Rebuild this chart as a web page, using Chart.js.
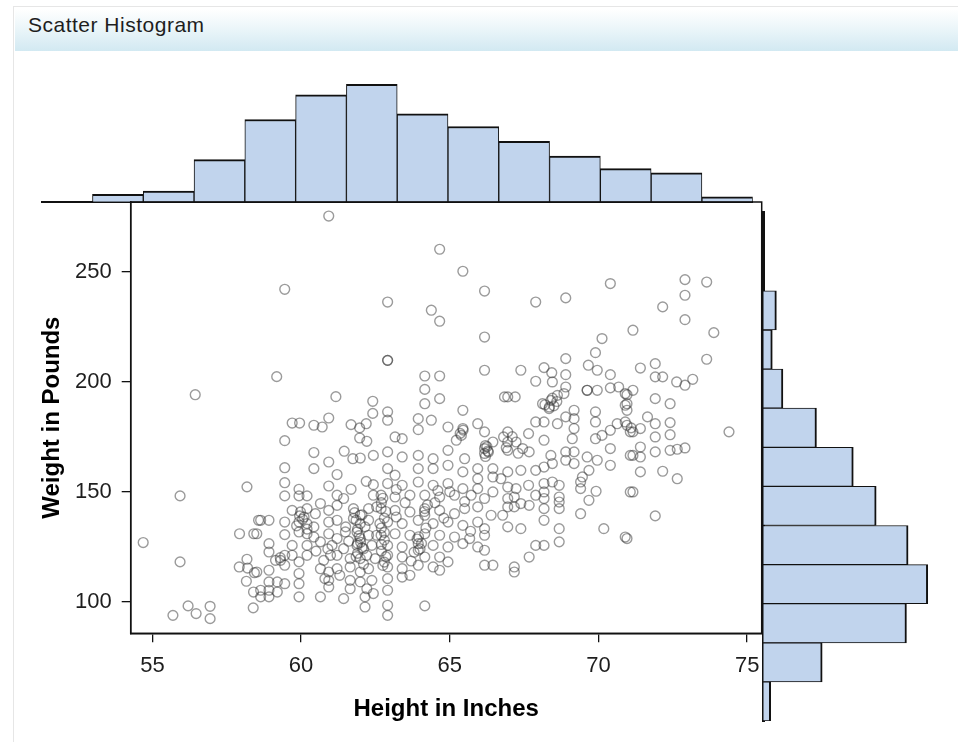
<!DOCTYPE html>
<html>
<head>
<meta charset="utf-8">
<title>Scatter Histogram</title>
<script src="https://cdn.jsdelivr.net/npm/chart.js@4.4.1/dist/chart.umd.min.js"></script>
<style>
  html, body { margin: 0; padding: 0; background: #ffffff; }
  #stage { position: relative; width: 958px; height: 742px; overflow: hidden; background: #ffffff; }
  #panel { position: absolute; left: 13px; top: 6px; width: 980px; height: 780px;
           border-left: 1px solid #e6e6e6; border-top: 1px solid #e6e6e6; }
  #titlebar { position: absolute; left: 15px; top: 9px; width: 943px; height: 42px; box-sizing: border-box;
              padding: 4px 0 0 13px; letter-spacing: 0.5px;
              background: linear-gradient(to bottom, #ffffff 0%, #eef7fa 40%, #d2e9f2 100%);
              font: 21px "Liberation Sans", Arial, sans-serif; color: #1e1e1e; }
  canvas { position: absolute; left: 0; top: 0; }
</style>
</head>
<body>
<div id="stage">
  <div id="panel"></div>
  <div id="titlebar">Scatter Histogram</div>
  <canvas id="topHist" width="958" height="215"></canvas>
  <canvas id="rightHist" width="958" height="742"></canvas>
  <canvas id="scatter" width="958" height="742"></canvas>
</div>
<script>
// Height histogram (percent of people per bin, left to right)
const heightBins = ['54.0', '55.5', '57.0', '58.5', '60.0', '61.5', '63.0', '64.5', '66.0', '67.5', '69.0', '70.5', '72.0', '73.5'];
const heightPct  = [0, 1.05, 1.5, 6.0, 11.7, 15.2, 16.7, 12.5, 10.7, 8.6, 6.5, 4.7, 4.1, 0.7];

// Weight histogram (percent of people per bin, heaviest bin first)
const weightBins = ['270', '255', '240', '225', '210', '195', '180', '165', '150', '135', '120', '105', '90'];
const weightPct  = [0, 0, 1.6, 1.1, 2.4, 6.5, 11.0, 13.8, 17.7, 20.1, 17.5, 7.2, 0.9];

// Scatter axis ticks
const heightTicks = [55, 60, 65, 70, 75];
const weightTicks = [100, 150, 200, 250];

// [height in inches, weight in pounds]
const people = [
  [56.44,194.1],[58.18,152.2],[55.93,148.1],[58.57,137.0],[57.93,130.9],[58.41,130.9],[54.69,126.9],
  [55.93,118.1],[58.18,119.3],[57.92,115.8],[58.20,115.3],[58.43,113.2],[58.16,109.3],[58.40,104.4],
  [58.39,97.2],[56.20,98.1],[56.47,94.6],[56.94,97.9],[56.94,92.3],[55.69,93.8],

  [60.93,275.3],[59.45,242.0],[59.18,202.3],[61.17,193.2],[62.41,191.1],[62.41,185.6],[59.70,181.2],
  [59.95,181.2],[60.43,180.2],[60.93,183.5],[60.71,179.4],[61.68,180.5],[61.97,179.0],[62.19,180.9],
  [59.45,173.2],[61.97,174.4],[62.21,172.9],[60.43,167.8],[60.93,163.5],[61.45,168.4],[61.74,165.0],
  [61.99,165.3],[62.43,166.5],[59.45,160.9],[60.43,160.5],[61.21,157.8],[59.45,154.1],[59.45,148.1],
  [59.93,151.1],[59.93,148.1],[60.20,148.1],[60.93,152.6],[61.21,148.4],[61.68,151.1],[62.19,154.7],
  [62.43,153.2],[62.43,148.4],[61.43,146.9],[60.65,144.6],[59.70,141.5],[59.98,140.8],[60.20,142.3],
  [60.48,140.0],[60.93,141.5],[61.21,143.8],[61.76,142.3],[61.99,139.3],[62.27,142.3],[62.54,143.1],
  [58.64,137.0],[58.92,137.0],[59.45,136.2],[59.93,136.2],[60.20,135.5],[60.43,134.0],[60.93,136.2],
  [61.21,137.0],[61.76,137.8],[61.99,135.5],[62.27,137.0],[58.51,130.9],[59.45,130.5],[59.93,131.7],
  [60.20,130.9],[60.43,129.4],[60.93,130.9],[61.21,128.7],[61.49,131.7],[61.88,131.7],[61.99,128.7],
  [62.27,130.2],[62.54,130.2],[58.92,126.4],[59.70,125.6],[60.20,125.6],[60.65,127.2],[61.04,125.6],
  [61.43,124.1],[61.88,125.6],[62.10,124.1],[62.38,125.6],[58.92,122.6],[59.14,118.8],[59.31,118.8],
  [59.45,121.1],[59.70,121.1],[59.93,118.1],[60.20,121.1],[60.76,118.8],[60.99,121.1],[61.21,121.1],
  [61.65,119.6],[61.99,119.6],[62.21,121.1],[62.49,119.6],[58.51,113.5],[58.92,114.3],[59.45,116.6],
  [59.93,112.8],[60.65,115.0],[60.93,113.5],[61.21,115.0],[61.65,115.8],[61.99,113.5],[62.27,115.0],
  [58.92,109.0],[59.20,109.0],[59.45,108.2],[59.93,108.2],[60.93,109.7],[61.65,109.7],[61.99,109.0],
  [62.38,109.7],[58.64,105.2],[58.92,105.2],[59.20,104.4],[60.93,106.7],[61.65,105.9],[62.21,105.9],
  [58.64,102.2],[58.92,102.2],[60.65,102.2],[61.43,101.4],[62.15,102.2],[59.93,102.2],[62.43,103.7],
  [62.15,97.6],

  [64.66,260.2],[65.44,250.2],[66.17,241.2],[62.91,236.2],[64.38,232.5],[64.66,227.5],[66.17,220.3],
  [62.91,209.7],[62.91,209.7],[64.16,202.6],[64.66,202.6],[66.17,205.2],[64.16,196.5],[64.66,192.3],
  [64.16,190.0],[65.44,187.0],[62.91,186.3],[62.91,182.5],[63.94,183.2],[64.38,182.5],[63.94,178.2],
  [63.16,174.9],[63.40,174.1],[64.94,179.4],[65.44,178.7],[65.94,180.9],[66.17,177.2],[65.39,175.6],
  [65.22,173.4],[66.17,169.6],[66.17,167.4],[66.28,168.5],[66.45,172.6],[66.81,174.9],[66.84,193.1],
  [62.91,168.1],[63.40,165.8],[63.94,166.5],[64.44,165.0],[64.94,168.8],[65.50,165.0],[65.94,160.5],
  [66.45,160.5],[62.91,160.5],[63.16,157.5],[63.94,160.5],[64.44,160.5],[64.94,162.0],[65.44,159.0],
  [65.94,155.9],[66.45,156.7],[66.72,155.9],[62.91,153.7],[63.40,152.9],[63.94,154.4],[64.44,152.9],
  [64.94,153.7],[65.44,151.4],[65.94,151.4],[66.45,149.9],[62.69,148.4],[63.16,147.6],[63.66,148.4],
  [64.16,148.4],[64.66,147.6],[65.16,148.4],[65.72,148.4],[66.17,146.9],[62.69,142.3],[63.16,141.5],
  [63.66,140.8],[64.16,142.3],[64.16,139.3],[64.66,141.5],[65.16,140.0],[65.50,142.3],[65.94,143.1],
  [66.39,139.3],[66.78,139.3],[62.91,136.2],[63.40,135.5],[63.94,137.0],[64.44,135.5],[64.94,136.2],
  [65.44,134.7],[65.94,136.2],[66.17,133.2],[62.69,130.2],[63.16,130.9],[63.66,130.2],[64.16,130.9],
  [64.66,130.2],[65.16,129.4],[65.67,128.7],[66.17,130.2],[62.91,125.6],[63.40,124.9],[63.94,126.4],
  [64.44,125.6],[64.94,124.9],[65.44,126.4],[65.94,124.9],[66.17,123.4],[62.91,121.1],[63.40,120.3],
  [63.94,123.4],[64.16,120.3],[64.66,120.3],[64.94,118.1],[66.17,116.6],[66.45,116.6],[62.91,115.8],
  [63.40,115.0],[63.94,116.6],[64.44,115.8],[62.91,110.5],[63.40,111.2],[64.66,114.3],[62.91,105.2],
  [62.91,98.4],[62.91,93.8],[64.16,98.1],[63.66,112.0],

  [70.40,244.6],[68.90,238.1],[67.89,236.2],[70.12,219.6],[69.90,213.2],[68.90,210.5],[67.39,205.2],
  [68.17,206.4],[68.43,204.1],[68.90,203.2],[69.66,207.5],[69.96,205.2],[70.40,203.2],[67.89,200.2],
  [68.45,199.9],[68.90,197.6],[69.62,196.1],[69.62,196.1],[69.96,196.1],[70.40,197.2],[70.68,197.6],
  [70.90,194.6],[66.95,193.1],[67.20,193.1],[68.12,190.0],[68.40,191.5],[68.62,193.8],[68.84,194.6],
  [68.34,187.8],[70.90,189.3],[67.89,181.7],[68.17,181.7],[68.62,180.9],[68.90,184.0],[69.18,187.0],
  [69.18,183.2],[69.18,178.7],[69.90,186.3],[69.90,181.7],[69.90,174.1],[70.12,175.6],[70.40,177.9],
  [70.63,180.9],[70.90,181.7],[71.07,177.2],[66.95,177.2],[66.95,172.6],[67.23,172.6],[67.65,176.4],
  [68.17,173.4],[69.12,174.1],[67.45,169.6],[67.67,168.1],[66.95,168.8],[68.40,166.5],[68.90,168.1],
  [69.18,168.1],[68.90,164.3],[69.18,162.8],[69.62,165.8],[69.96,164.3],[70.40,169.6],[70.40,162.0],
  [71.07,166.5],[66.95,159.0],[67.39,159.7],[67.89,159.7],[68.17,161.2],[68.45,162.8],[69.46,156.7],
  [69.68,159.7],[66.95,152.1],[67.23,151.4],[67.65,152.9],[68.17,153.7],[68.45,154.4],[68.68,152.9],
  [69.40,154.4],[69.40,151.4],[66.95,146.9],[67.17,147.6],[67.39,144.6],[67.89,148.4],[68.17,149.9],
  [68.17,146.9],[68.68,147.6],[68.68,145.3],[66.95,143.1],[67.17,143.1],[67.67,143.8],[68.17,142.3],
  [68.68,142.3],[69.68,146.1],[69.92,150.2],[71.07,149.9],[69.40,140.0],[66.95,134.0],[67.39,133.2],
  [68.17,137.0],[68.68,133.2],[70.18,133.2],[70.90,129.4],[67.89,125.6],[68.17,125.6],[68.68,127.2],
  [67.67,120.3],[67.17,115.8],[67.17,113.5],

  [72.91,246.4],[73.64,245.3],[72.91,239.3],[72.16,234.0],[72.91,228.2],[73.88,222.3],[71.16,223.4],
  [73.64,210.2],[71.41,206.2],[71.91,208.2],[71.91,202.2],[72.16,202.2],[72.63,199.9],[72.91,198.4],
  [73.17,201.1],[71.16,196.1],[70.96,194.1],[70.96,190.0],[70.96,187.0],[71.91,192.3],[72.41,190.0],
  [71.65,184.0],[71.91,180.9],[72.41,181.4],[71.41,178.7],[71.16,177.2],[70.96,180.2],[71.91,174.9],
  [72.41,175.9],[74.39,177.2],[71.41,170.3],[71.16,166.5],[71.41,165.8],[71.91,168.1],[72.41,168.8],
  [72.65,169.3],[72.91,169.9],[71.41,159.0],[72.16,159.3],[72.65,155.9],[71.16,149.9],[71.91,139.0],
  [70.96,128.7],

  [61.90,133.0],[62.00,127.0],[61.90,122.0],[62.10,117.0],[61.80,140.5],[62.70,145.0],[62.80,138.0],
  [62.70,133.5],[62.80,128.0],[62.70,123.0],[62.80,118.0],[63.90,128.5],[64.00,124.0],[64.20,133.5],
  [60.10,138.5],[60.20,133.0],[59.30,120.0],[65.00,150.0],[66.20,171.0],[66.30,168.0],[68.60,191.0],
  [68.50,189.0],[71.10,179.0],[60.90,124.0],[61.50,134.0],[63.50,145.0],[64.50,145.0],[65.50,145.5],
  [64.80,138.0],[63.20,151.0],

  [59.85,134.5],[60.05,137.5],[59.95,139.0],[61.85,120.5],[62.05,124.5],[61.95,130.0],[62.15,134.0],
  [61.85,137.0],[62.05,139.5],[61.90,126.5],[62.75,147.0],[62.85,141.0],[62.65,135.5],[62.80,131.5],
  [62.70,126.0],[62.85,120.5],[62.75,116.5],[63.80,122.5],[64.05,126.5],[63.95,129.5],[64.15,141.0],
  [64.25,144.0],[65.35,176.5],[65.45,178.0],[66.20,166.0],[66.25,170.5],[68.20,189.5],[68.45,192.5],
  [68.35,188.5],[66.90,170.0],[67.10,175.0],[67.30,167.5],[61.30,112.0],[60.80,110.5],[63.20,138.5],
  [64.60,150.5],[65.70,132.0],[61.60,127.5],[60.50,123.0],[63.70,118.5]
];

const ink = '#111111';
const tickFont = { family: '"Liberation Sans", Arial, sans-serif', size: 22 };
const titleFont = { family: '"Liberation Sans", Arial, sans-serif', size: 24, weight: 'bold' };
const barFill = '#c1d4ed';

// Box around the scatter plot area
const frame = {
  id: 'frame',
  afterDatasetsDraw(chart) {
    const a = chart.chartArea, c = chart.ctx;
    c.save();
    c.strokeStyle = ink;
    c.lineWidth = 1.5;
    c.strokeRect(a.left, a.top, a.right - a.left, a.bottom - a.top);
    c.restore();
  }
};

// Marginal histogram of heights
new Chart(document.getElementById('topHist'), {
  type: 'bar',
  data: {
    labels: heightBins,
    datasets: [{
      data: heightPct,
      backgroundColor: barFill,
      borderColor: ink,
      borderWidth: { top: 2, left: 1, right: 1, bottom: 0 },
      borderSkipped: false,
      barPercentage: 1,
      categoryPercentage: 1
    }]
  },
  options: {
    responsive: false, animation: false, events: [],
    layout: { padding: { left: 41.7, right: 205.3, top: 61.2, bottom: 13.3 } },
    plugins: { legend: { display: false }, tooltip: { enabled: false } },
    scales: {
      x: {
        afterFit(s) { s.height = 0; },
        ticks: { display: false },
        grid: { display: false },
        border: { display: true, color: ink, width: 2 }
      },
      y: { display: false, min: 0, max: 20 }
    }
  }
});

// Marginal histogram of weights
new Chart(document.getElementById('rightHist'), {
  type: 'bar',
  data: {
    labels: weightBins,
    datasets: [{
      data: weightPct,
      backgroundColor: barFill,
      borderColor: ink,
      borderWidth: { right: 2, top: 1, bottom: 1, left: 0 },
      borderSkipped: false,
      barPercentage: 1,
      categoryPercentage: 1
    }]
  },
  options: {
    indexAxis: 'y',
    responsive: false, animation: false, events: [],
    layout: { padding: { left: 763.3, right: 0, top: 212.7, bottom: 21 } },
    plugins: { legend: { display: false }, tooltip: { enabled: false } },
    scales: {
      y: {
        afterFit(s) { s.width = 0; },
        ticks: { display: false },
        grid: { display: false },
        border: { display: true, color: ink, width: 3 }
      },
      x: { display: false, min: 0, max: 23.8 }
    }
  }
});

// Height vs weight scatter
new Chart(document.getElementById('scatter'), {
  type: 'scatter',
  data: {
    datasets: [{
      data: people.map(p => ({ x: p[0], y: p[1] })),
      pointRadius: 4.9,
      pointHoverRadius: 4.9,
      pointBorderWidth: 1.4,
      borderColor: 'rgba(55,55,55,0.5)',
      backgroundColor: 'rgba(0,0,0,0)'
    }]
  },
  options: {
    responsive: false, animation: false, events: [],
    layout: { padding: { left: 34, top: 202, right: 196.3, bottom: 14.6 } },
    plugins: { legend: { display: false }, tooltip: { enabled: false } },
    scales: {
      x: {
        type: 'linear', min: 54.27, max: 75.49,
        afterFit(s) { s.height = 94.1; },
        afterBuildTicks(s) { s.ticks = heightTicks.map(v => ({ value: v })); },
        ticks: { color: '#1e1e1e', font: tickFont, padding: 10, maxRotation: 0 },
        grid: { display: true, drawOnChartArea: false, drawTicks: true, tickLength: 9, color: ink, lineWidth: 1.3 },
        border: { display: true, color: ink, width: 1.5 },
        title: { display: true, text: 'Height in Inches', color: '#000', font: titleFont, padding: { top: 4, bottom: 4 } }
      },
      y: {
        type: 'linear', min: 85.64, max: 281.68,
        afterFit(s) { s.width = 96.7; },
        afterBuildTicks(s) { s.ticks = weightTicks.map(v => ({ value: v })); },
        ticks: { color: '#1e1e1e', font: tickFont, padding: 10 },
        grid: { display: true, drawOnChartArea: false, drawTicks: true, tickLength: 9, color: ink, lineWidth: 1.3 },
        border: { display: true, color: ink, width: 1.5 },
        title: { display: true, text: 'Weight in Pounds', color: '#000', font: titleFont, padding: { top: 4, bottom: 4 } }
      }
    }
  },
  plugins: [frame]
});
</script>
</body>
</html>
